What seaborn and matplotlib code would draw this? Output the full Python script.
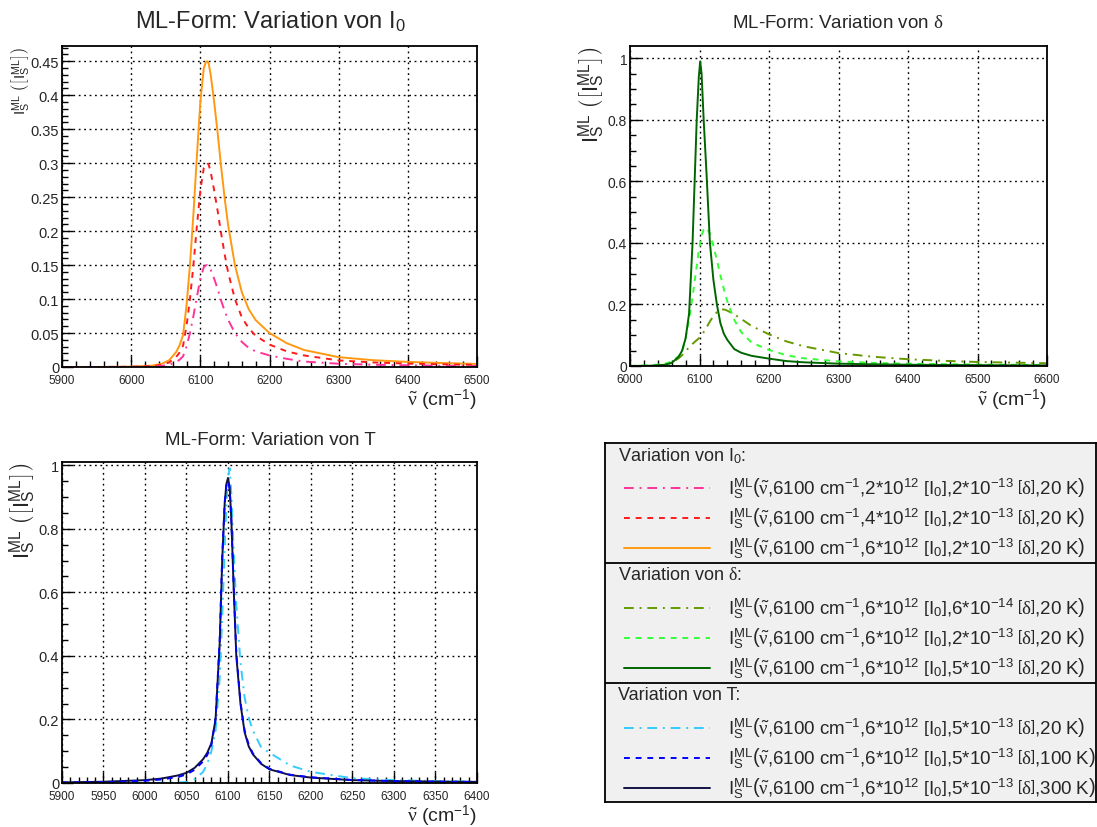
"""ML line shape: variation of I0, delta and T (2x2 ROOT-style canvas)."""

import matplotlib
matplotlib.use('Agg')
import matplotlib.pyplot as plt
import matplotlib.ticker as mticker
import seaborn as sns

# ---------------- data ----------------
# Panel 1: variation of I0
NU_I0 = [5900, 5950, 6000, 6030, 6045, 6055, 6065, 6070, 6075, 6080, 6085, 6090,
         6095, 6100, 6105, 6108, 6110, 6112, 6115, 6120, 6125, 6130, 6135, 6140,
         6150, 6160, 6170, 6180, 6200, 6225, 6250, 6300, 6350, 6400, 6450, 6500]
I0_2E12 = [0, 0, 0.0002, 0.0007, 0.0017, 0.0033, 0.0073, 0.0107, 0.0157, 0.03, 0.05,
           0.075, 0.103, 0.13, 0.147, 0.1497, 0.15, 0.149, 0.143, 0.13, 0.115, 0.098,
           0.083, 0.07, 0.05, 0.037, 0.028, 0.023, 0.017, 0.012, 0.008, 0.0048,
           0.0033, 0.0025, 0.0019, 0.0015]
I0_4E12 = [0, 0, 0.0003, 0.0013, 0.0033, 0.0067, 0.0147, 0.0213, 0.0313, 0.06, 0.1,
           0.15, 0.207, 0.26, 0.293, 0.299, 0.30, 0.298, 0.287, 0.26, 0.23, 0.197,
           0.167, 0.14, 0.10, 0.073, 0.057, 0.046, 0.033, 0.023, 0.017, 0.0097,
           0.0067, 0.005, 0.0039, 0.003]
I0_6E12 = [0, 0, 0.0005, 0.002, 0.005, 0.010, 0.022, 0.032, 0.047, 0.090, 0.150,
           0.225, 0.31, 0.39, 0.44, 0.449, 0.45, 0.447, 0.43, 0.39, 0.345, 0.295,
           0.25, 0.21, 0.15, 0.11, 0.085, 0.069, 0.05, 0.035, 0.025, 0.0145, 0.010,
           0.0075, 0.0058, 0.0045]

# Panel 2: variation of delta
NU_D = [6000, 6030, 6050, 6060, 6070, 6075, 6080, 6085, 6090, 6093, 6096, 6099,
        6101, 6103, 6106, 6110, 6115, 6120, 6125, 6130, 6135, 6140, 6150, 6160,
        6175, 6200, 6225, 6250, 6300, 6350, 6400, 6450, 6500, 6550, 6600]
D_6E14 = [0, 0.0005, 0.004, 0.011, 0.025, 0.035, 0.049, 0.06, 0.072, 0.078, 0.084,
          0.09, 0.094, 0.1, 0.11, 0.125, 0.145, 0.162, 0.175, 0.183, 0.184, 0.18,
          0.168, 0.153, 0.13, 0.103, 0.08, 0.064, 0.042, 0.03, 0.022, 0.017, 0.013,
          0.011, 0.009]
D_2E13 = [0.0005, 0.002, 0.007, 0.015, 0.032, 0.047, 0.09, 0.15, 0.225, 0.275, 0.325,
          0.375, 0.40, 0.425, 0.443, 0.45, 0.43, 0.39, 0.345, 0.295, 0.25, 0.21, 0.15,
          0.11, 0.076, 0.052, 0.035, 0.025, 0.015, 0.010, 0.0075, 0.006, 0.0048,
          0.004, 0.0034]
D_5E13 = [0, 0.001, 0.004, 0.01, 0.03, 0.05, 0.09, 0.17, 0.4, 0.6, 0.8, 0.94, 0.99,
          0.95, 0.8, 0.63, 0.4, 0.28, 0.2, 0.14, 0.105, 0.085, 0.055, 0.043, 0.033,
          0.024, 0.016, 0.012, 0.0075, 0.0055, 0.0042, 0.0034, 0.0028, 0.0023, 0.002]

# Panel 3: variation of T
NU_T = [5900, 5950, 6000, 6020, 6040, 6050, 6060, 6070, 6075, 6080, 6085, 6090, 6093,
        6096, 6098, 6100, 6102, 6104, 6107, 6110, 6115, 6120, 6125, 6130, 6140, 6150,
        6175, 6200, 6250, 6300, 6350, 6400]
T_20K = [0, 0, 0, 0.0005, 0.0015, 0.003, 0.012, 0.035, 0.06, 0.1, 0.165, 0.33, 0.52,
         0.74, 0.87, 0.96, 0.99, 0.91, 0.72, 0.56, 0.38, 0.27, 0.205, 0.165, 0.112,
         0.095, 0.055, 0.035, 0.015, 0.009, 0.006, 0.004]
T_100K = [0.0015, 0.003, 0.007, 0.011, 0.019, 0.027, 0.042, 0.068, 0.088, 0.12, 0.2,
          0.45, 0.71, 0.88, 0.935, 0.95, 0.925, 0.83, 0.61, 0.41, 0.255, 0.165, 0.12,
          0.093, 0.062, 0.045, 0.026, 0.018, 0.0095, 0.006, 0.0045, 0.0035]
T_300K = [0.002, 0.004, 0.009, 0.014, 0.024, 0.032, 0.048, 0.075, 0.095, 0.125, 0.2,
          0.44, 0.7, 0.88, 0.94, 0.96, 0.93, 0.83, 0.6, 0.4, 0.25, 0.16, 0.115, 0.09,
          0.06, 0.043, 0.025, 0.017, 0.009, 0.006, 0.0045, 0.0035]

# legend parameters
I0_VALUES = ['2', '4', '6']
DELTA_VALUES = [('6', '-14'), ('2', '-13'), ('5', '-13')]
T_VALUES = ['20', '100', '300']

# ---------------- style ----------------
sns.set_style('white')
plt.rcParams['font.family'] = ['Liberation Sans', 'DejaVu Sans']
plt.rcParams['mathtext.fontset'] = 'custom'
plt.rcParams['mathtext.rm'] = 'Liberation Sans'
plt.rcParams['mathtext.sf'] = 'Liberation Sans'
plt.rcParams['mathtext.it'] = 'Liberation Serif'
plt.rcParams['mathtext.bf'] = 'Liberation Sans:bold'

SOLID = '-'
DASHED = (0, (3, 3))
DASHDOT = (0, (5, 3, 1, 3))
LW = 1.4

W, H = 1097, 828
fig = plt.figure(figsize=(W / 100, H / 100), dpi=100)


def px_axes(x0, y0, x1, y1):
    return fig.add_axes([x0 / W, 1 - y1 / H, (x1 - x0) / W, (y1 - y0) / H])


def style_axes(ax, xlim, ylim, xmaj, xmin, ymaj, ymin, xfs, yfs):
    ax.set_xlim(*xlim)
    ax.set_ylim(*ylim)
    ax.xaxis.set_major_locator(mticker.MultipleLocator(xmaj))
    ax.xaxis.set_minor_locator(mticker.MultipleLocator(xmin))
    ax.yaxis.set_major_locator(mticker.MultipleLocator(ymaj))
    ax.yaxis.set_minor_locator(mticker.MultipleLocator(ymin))
    ax.yaxis.set_major_formatter(mticker.FormatStrFormatter('%g'))
    ax.tick_params(which='both', direction='in', top=False, right=False,
                   bottom=True, left=True, width=1.0, color='black')
    ax.tick_params(which='major', length=8)
    ax.tick_params(which='minor', length=4.5)
    ax.tick_params(axis='x', labelsize=xfs, pad=5)
    ax.tick_params(axis='y', labelsize=yfs, pad=2)
    ax.grid(True, which='major', color='black', linestyle=(0, (1.3, 2.6)), linewidth=1.0)
    ax.set_axisbelow(True)
    for s in ax.spines.values():
        s.set_color('black')
        s.set_linewidth(1.3)
    ax.set_xlabel('')
    ax.set_ylabel('')


def draw(ax, x, y, color, ls):
    sns.lineplot(x=x, y=y, ax=ax, color=color, linewidth=LW, linestyle=ls,
                 estimator=None, sort=False)


YLABEL = r'$\mathrm{I}_{\mathrm{S}}^{\mathrm{ML}}\ \left(\left[\mathrm{I}_{\mathrm{S}}^{\mathrm{ML}}\right]\right)$'
XLABEL = r'$\tilde{\nu}$ (cm$^{-1}$)'

# Panel 1
ax1 = px_axes(62, 47, 477, 368)
draw(ax1, NU_I0, I0_6E12, '#ff9911', SOLID)
draw(ax1, NU_I0, I0_4E12, '#ff1a1a', DASHED)
draw(ax1, NU_I0, I0_2E12, '#ff3399', DASHDOT)
style_axes(ax1, (5900, 6500), (0, 0.4725), 100, 20, 0.05, 0.01, 8.5, 10.5)
fig.text(270 / W, 1 - 29 / H, r'ML-Form: Variation von I$_0$', fontsize=17,
         ha='center', va='baseline')
fig.text(20 / W, 1 - 47 / H, YLABEL, fontsize=11, rotation=90, ha='center', va='top')
fig.text(477 / W, 1 - 406 / H, XLABEL, fontsize=14, ha='right', va='baseline')

# Panel 2
ax2 = px_axes(630, 47, 1047, 367)
draw(ax2, NU_D, D_6E14, '#669900', DASHDOT)
draw(ax2, NU_D, D_2E13, '#33ff33', DASHED)
draw(ax2, NU_D, D_5E13, '#006600', SOLID)
style_axes(ax2, (6000, 6600), (0, 1.04), 100, 20, 0.2, 0.05, 8.5, 10)
fig.text(838 / W, 1 - 28 / H, r'ML-Form: Variation von $\delta$', fontsize=13.5,
         ha='center', va='baseline')
fig.text(592 / W, 1 - 47 / H, YLABEL, fontsize=16, rotation=90, ha='center', va='top')
fig.text(1047 / W, 1 - 406 / H, XLABEL, fontsize=14, ha='right', va='baseline')

# Panel 3
ax3 = px_axes(62, 463, 477, 784)
draw(ax3, NU_T, T_20K, '#33ccff', DASHDOT)
draw(ax3, NU_T, T_300K, '#111144', SOLID)
draw(ax3, NU_T, T_100K, '#0000ff', DASHED)
style_axes(ax3, (5900, 6400), (0, 1.01), 50, 10, 0.2, 0.05, 8.5, 10.5)
fig.text(270 / W, 1 - 445 / H, 'ML-Form: Variation von T', fontsize=13.5,
         ha='center', va='baseline')
fig.text(23 / W, 1 - 463 / H, YLABEL, fontsize=16, rotation=90, ha='center', va='top')
fig.text(477 / W, 1 - 822 / H, XLABEL, fontsize=14, ha='right', va='baseline')

# Legend panel
LX0, LY0, LX1, LY1 = 605, 444, 1096, 803
lax = px_axes(LX0, LY0, LX1, LY1)
lax.set_xlim(LX0, LX1)
lax.set_ylim(LY1, LY0)
lax.set_facecolor('#f0f0f0')
lax.set_xticks([])
lax.set_yticks([])
for s in lax.spines.values():
    s.set_color('black')
    s.set_linewidth(1.3)
for yy in (564, 684):
    lax.axhline(yy, color='black', linewidth=1.3)


def entry(i0, dm, de, t):
    return (r'$\mathrm{I}_{\mathrm{S}}^{\mathrm{ML}}\left(\tilde{\nu}{,}\mathrm{6100\ cm}^{-1}{,}\mathrm{'
            + i0 + r'{*}10}^{12}\ \left[\mathrm{I}_{0}\right]{,}\mathrm{' + dm
            + r'{*}10}^{' + de + r'}\ \left[\delta\right]{,}\mathrm{' + t + r'\ K}\right)$')


sections = [
    (r'Variation von I$_0$:',
     [(entry(v, '2', '-13', '20'), c, ls) for v, c, ls in
      zip(I0_VALUES, ['#ff3399', '#ff1a1a', '#ff9911'], [DASHDOT, DASHED, SOLID])]),
    (r'Variation von $\delta$:',
     [(entry('6', dm, de, '20'), c, ls) for (dm, de), c, ls in
      zip(DELTA_VALUES, ['#669900', '#33ff33', '#006600'], [DASHDOT, DASHED, SOLID])]),
    ('Variation von T:',
     [(entry('6', '5', '-13', t), c, ls) for t, c, ls in
      zip(T_VALUES, ['#33ccff', '#0000ff', '#111144'], [DASHDOT, DASHED, SOLID])]),
]
for s, (head, rows) in enumerate(sections):
    y_head = 456 + 120 * s
    lax.text(618, y_head, head, fontsize=13, ha='left', va='center')
    for r, (lab, c, ls) in enumerate(rows):
        yy = 489 + 120 * s + 30 * r
        lax.plot([624, 710], [yy, yy], color=c, linestyle=ls, linewidth=LW)
        lax.text(728, yy, lab, fontsize=13.5, ha='left', va='center')

fig.savefig('out.png', dpi=100, facecolor='white')
